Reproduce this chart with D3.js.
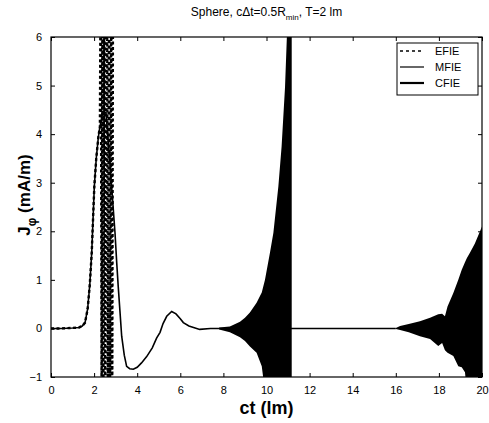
<!DOCTYPE html>
<html><head><meta charset="utf-8">
<script src="https://cdn.jsdelivr.net/npm/d3@7"></script>
<style>
body{margin:0;background:#fff;}
svg{font-family:"Liberation Sans",Arial,sans-serif;}
.axis text{font-size:11px;fill:#000;}
.axis path{display:none;}
.axis line{stroke:#000;stroke-width:1;}
</style></head>
<body><svg id="c" width="489" height="423"></svg>
<script>
// ---- data ----
const xTicks = [0,2,4,6,8,10,12,14,16,18,20];
const yTicks = [-1,0,1,2,3,4,5,6];
const seriesNames = ["EFIE","MFIE","CFIE"];
// smooth early-time response (shared by MFIE and CFIE)
const smoothCt  = [0,0.5,1.0,1.3,1.45,1.58,1.7,1.8,1.89,2.01,2.1,2.2,2.27,2.4,2.55,2.7,2.85,2.97,3.05,3.12,3.2,3.28,3.4,3.51,3.65,3.82,4.0,4.2,4.44,4.7,4.9,5.06,5.2,5.37,5.6,5.8,6.0,6.14,6.4,6.9,7.4,7.8];
const smoothVal = [0,0,0.01,0.02,0.05,0.12,0.4,0.9,1.56,2.92,3.5,3.95,4.15,4.45,4.45,3.6,2.7,1.97,1.35,0.86,0.35,-0.16,-0.55,-0.78,-0.83,-0.84,-0.8,-0.71,-0.58,-0.4,-0.2,-0.08,0.1,0.25,0.35,0.3,0.2,0.12,0.05,-0.02,0,0];
// EFIE: follows the pulse, then blows up around ct≈2.3
const efieCt  = [0,0.5,1.0,1.3,1.45,1.58,1.7,1.8,1.89,2.01,2.1,2.2,2.27,2.31,2.35,2.39,2.43,2.47,2.51,2.6,2.64,2.7,2.74,2.8,2.84,2.88];
const efieVal = [0,0,0.01,0.02,0.05,0.12,0.4,0.9,1.56,2.92,3.5,3.95,4.15,8,-2,8,-2,8,-2,8,-2,8,-2,8,-2,8];
// MFIE late-time instability envelope
const mfieEnvCt = [7.8,8.3,8.77,9.0,9.23,9.54,9.78,9.93,10.16,10.32,10.55,10.7,10.86,10.97,11.17];
const mfieEnvLo = [-0.02,-0.08,-0.18,-0.26,-0.37,-0.5,-0.78,-1.3,-1.3,-1.3,-1.3,-1.3,-1.3,-1.3,-1.3];
const mfieEnvHi = [0.02,0.04,0.14,0.22,0.33,0.53,0.74,1.0,1.56,1.97,2.92,3.74,4.97,6.3,6.3];
// CFIE flat segment and late-time instability envelope
const cfieFlatCt  = [7.8,10,12,14,16];
const cfieFlatVal = [0,0,0,0,0];
const cfieEnvCt = [16.0,16.2,16.6,17.12,17.59,17.97,18.15,18.28,18.4,18.67,18.9,19.06,19.21,19.3,19.44,19.67,20];
const cfieEnvLo = [-0.01,-0.03,-0.08,-0.16,-0.22,-0.36,-0.3,-0.45,-0.5,-0.57,-0.78,-0.8,-0.9,-1.3,-1.3,-1.3,-1.3];
const cfieEnvHi = [0.01,0.05,0.09,0.15,0.22,0.29,0.3,0.25,0.45,0.73,1.0,1.21,1.36,1.45,1.56,1.75,2.1];

// ---- layout ----
const L=51, R=482, T=37, B=377;
const svg = d3.select("#c");
const x = d3.scaleLinear().domain([0,20]).range([L,R]);
const y = d3.scaleLinear().domain([-1,6]).range([B,T]);

svg.append("defs").append("clipPath").attr("id","clip")
  .append("rect").attr("x",L).attr("y",T).attr("width",R-L).attr("height",B-T);

const g = svg.append("g").attr("clip-path","url(#clip)");
const line = d3.line().x(d=>x(d[0])).y(d=>y(d[1]));
const area = d3.area().x(d=>x(d[0])).y0(d=>y(d[1])).y1(d=>y(d[2]));

const smooth = smoothCt.map((c,i)=>[c,smoothVal[i]]);
const cfieLine = smooth.concat(cfieFlatCt.map((c,i)=>[c,cfieFlatVal[i]]));
g.append("path").attr("d",line(cfieLine)).attr("fill","none").attr("stroke","#000").attr("stroke-width",1.6);
g.append("path").attr("d",area(mfieEnvCt.map((c,i)=>[c,mfieEnvLo[i],mfieEnvHi[i]]))).attr("fill","#000");
g.append("path").attr("d",area(cfieEnvCt.map((c,i)=>[c,cfieEnvLo[i],cfieEnvHi[i]]))).attr("fill","#000");
g.append("path").attr("d",line(efieCt.map((c,i)=>[c,efieVal[i]])))
  .attr("fill","none").attr("stroke","#000").attr("stroke-width",2.4).attr("stroke-dasharray","3,2.5");

// ---- axes ----
svg.append("g").attr("class","axis").attr("transform",`translate(0,${B})`)
  .call(d3.axisBottom(x).tickValues(xTicks).tickFormat(d3.format("d")).tickSizeInner(-4).tickSizeOuter(0).tickPadding(9));
svg.append("g").attr("class","axis").attr("transform",`translate(${L},0)`)
  .call(d3.axisLeft(y).tickValues(yTicks).tickFormat(d3.format("d")).tickSizeInner(-4).tickSizeOuter(0).tickPadding(9));
svg.append("g").attr("class","axis").attr("transform",`translate(0,${T})`)
  .call(d3.axisTop(x).tickValues(xTicks).tickFormat("").tickSizeInner(-4).tickSizeOuter(0));
svg.append("g").attr("class","axis").attr("transform",`translate(${R},0)`)
  .call(d3.axisRight(y).tickValues(yTicks).tickFormat("").tickSizeInner(-4).tickSizeOuter(0));
svg.append("rect").attr("x",L).attr("y",T).attr("width",R-L).attr("height",B-T)
  .attr("fill","none").attr("stroke","#000").attr("stroke-width",1.2);

// ---- titles ----
const title = svg.append("text").attr("x",(L+R)/2).attr("y",16).attr("text-anchor","middle").attr("font-size",12);
title.append("tspan").text("Sphere, cΔt=0.5R");
title.append("tspan").attr("font-size",8).attr("dy",4).text("min");
title.append("tspan").attr("dy",-4).text(", T=2 lm");

svg.append("text").attr("x",(L+R)/2).attr("y",414).attr("text-anchor","middle")
  .attr("font-size",18).attr("font-weight","bold").text("ct (lm)");

const yl = svg.append("text").attr("transform",`translate(30,${(T+B)/2-12}) rotate(-90)`)
  .attr("text-anchor","middle").attr("font-size",17).attr("font-weight","bold");
yl.append("tspan").text("J");
yl.append("tspan").attr("font-size",12).attr("dy",6).text("φ");
yl.append("tspan").attr("dy",-6).text(" (mA/m)");

// ---- legend ----
const lg = svg.append("g");
lg.append("rect").attr("x",397).attr("y",43).attr("width",81).attr("height",52)
  .attr("fill","#fff").attr("stroke","#000").attr("stroke-width",1);
const legY = [51,67,83];
const legW = [1.4,1.2,2.2];
seriesNames.forEach((n,i)=>{
  lg.append("line").attr("x1",400).attr("x2",424).attr("y1",legY[i]).attr("y2",legY[i])
    .attr("stroke","#000").attr("stroke-width",legW[i]).attr("stroke-dasharray",i===0?"3,3":null);
  lg.append("text").attr("x",435).attr("y",legY[i]+4).attr("font-size",11).text(n);
});
</script></body></html>
